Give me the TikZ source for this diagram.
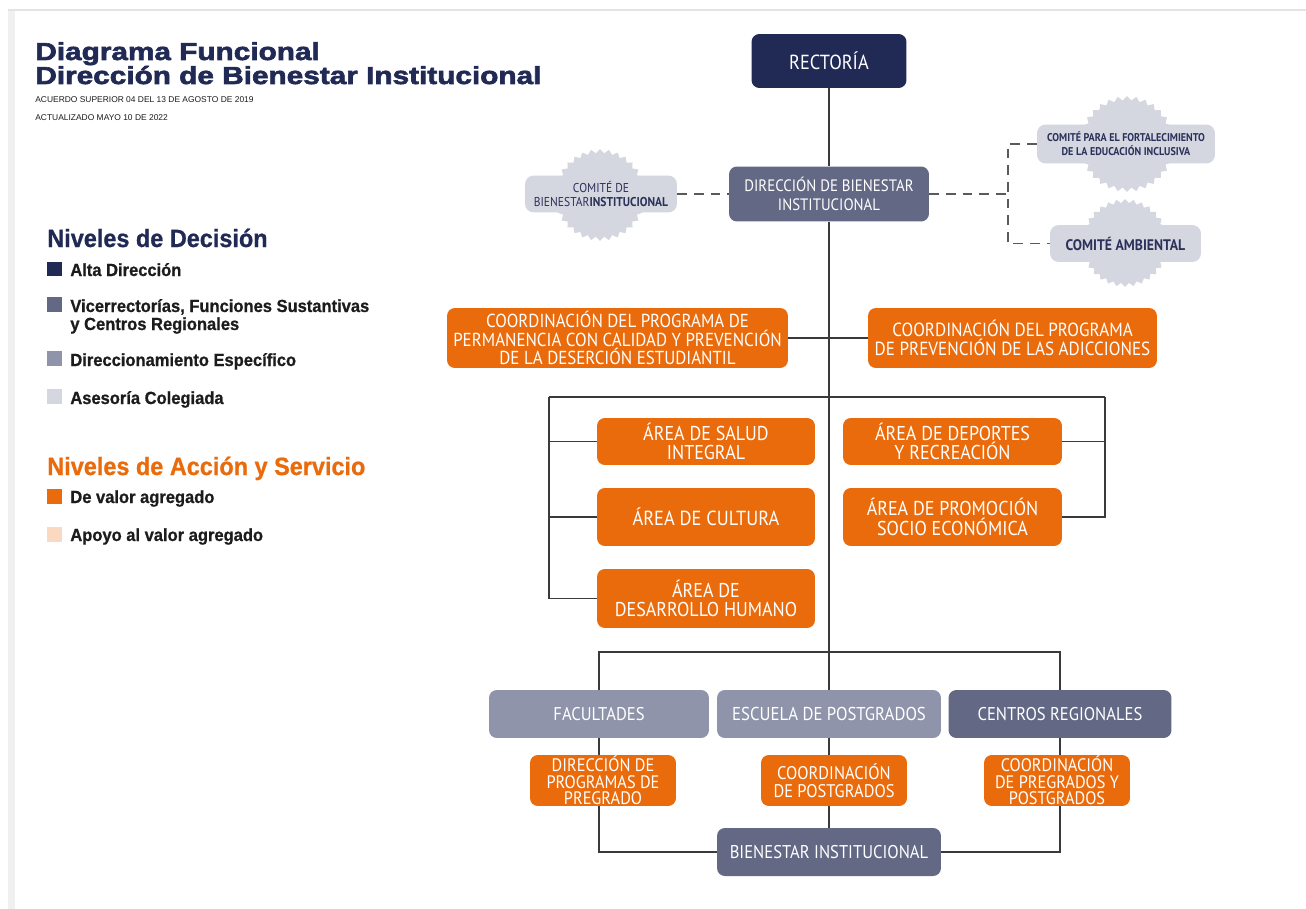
\documentclass[tikz,border=0pt]{standalone}
\usepackage{fontspec}
\setmainfont{Liberation Sans}
\newfontfamily\cajafont[FakeStretch=0.9]{PT Sans}
\newfontfamily\cajafontb[FakeStretch=0.9]{PT Sans Bold}
\newfontfamily\titfont[FakeStretch=1.21,FakeBold=2.5]{Liberation Sans Bold}
\newfontfamily\legfont[FakeStretch=0.94,FakeBold=0.8]{Liberation Sans Bold}
\usetikzlibrary{shapes.geometric}
\definecolor{navy}{HTML}{212A55}
\definecolor{pizarra}{HTML}{636985}
\definecolor{grisazul}{HTML}{8F94AA}
\definecolor{palido}{HTML}{D4D6E0}
\definecolor{naranja}{HTML}{EA6B0C}
\definecolor{durazno}{HTML}{FBD8C0}
\definecolor{tinta}{HTML}{1C1C1C}
\definecolor{linea}{HTML}{3A3A3A}
\definecolor{guiongris}{HTML}{5A5A5A}
\definecolor{comtxt}{HTML}{2B3159}
\tikzset{>=latex}
\tikzset{
  caja/.style={rectangle, rounded corners=4.5pt, inner sep=0pt, align=center, text=white},
  comite/.style={rectangle, rounded corners=5pt, inner sep=0pt, align=center, fill=palido, text=comtxt},
  sello/.style={star, star points=32, star point ratio=1.1, inner sep=0pt, fill=palido},
  cuadro/.style={rectangle, inner sep=0pt, minimum size=0.3cm},
  leyenda/.style={anchor=base west, inner sep=0pt, text=tinta, font=\legfont\fontsize{10}{11}\selectfont},
  titulo/.style={anchor=base west, inner sep=0pt, font=\legfont\fontsize{14.2}{14}\selectfont},
  enlace/.style={draw=linea, line width=0.8pt},
  guion/.style={draw=guiongris, line width=1.1pt, dash pattern=on 5.5pt off 4pt},
}

\begin{document}
\begin{tikzpicture}[x=0.02cm, y=-0.02cm]
  \useasboundingbox (0,0) rectangle (1306,909);
  \fill[white] (0,0) rectangle (1306,909);
  % marco
  \fill[gray!12] (8,11) rectangle (15,909);
  \draw[gray!22, line width=1.2pt] (8,10) -- (1306,10);

  % encabezado
  \node[anchor=base west, inner sep=0pt, text=navy, font=\titfont\fontsize{14}{14}\selectfont] (enc1) at (35,60) {Diagrama Funcional};
  \node[anchor=base west, inner sep=0pt, text=navy, font=\titfont\fontsize{14}{14}\selectfont] (enc2) at (35,84) {Dirección de Bienestar Institucional};
  \node[anchor=base west, inner sep=0pt, text=tinta, font=\fontsize{4.8}{5}\selectfont] (acuerdo) at (35,103) {ACUERDO SUPERIOR 04 DEL 13 DE AGOSTO DE 2019};
  \node[anchor=base west, inner sep=0pt, text=tinta, font=\fontsize{4.8}{5}\selectfont] (fecha) at (35,121) {ACTUALIZADO MAYO 10 DE 2022};

  % leyenda
  \node[titulo, text=navy] (decision) at (47,247) {Niveles de Decisión};
  \node[cuadro, fill=navy] (c1) at (54.5,269) {};
  \node[leyenda] (l1) at (70,276) {Alta Dirección};
  \node[cuadro, fill=pizarra] (c2) at (54.5,304.5) {};
  \node[leyenda] (l2) at (70,312) {Vicerrectorías, Funciones Sustantivas};
  \node[leyenda] (l2b) at (70,330) {y Centros Regionales};
  \node[cuadro, fill=grisazul] (c3) at (54.5,358.5) {};
  \node[leyenda] (l3) at (70,366) {Direccionamiento Específico};
  \node[cuadro, fill=palido] (c4) at (54.5,396.5) {};
  \node[leyenda] (l4) at (70,404) {Asesoría Colegiada};
  \node[titulo, text=naranja] (accion) at (47,475) {Niveles de Acción y Servicio};
  \node[cuadro, fill=naranja] (c5) at (54.5,496) {};
  \node[leyenda] (l5) at (70,503) {De valor agregado};
  \node[cuadro, fill=durazno] (c6) at (54.5,534) {};
  \node[leyenda] (l6) at (70,541) {Apoyo al valor agregado};

  % comites
  \node[sello, minimum size=1.84cm] (selloBI) at (600,195) {};
  \node[sello, minimum size=1.92cm] (selloInc) at (1127,144) {};
  \node[sello, minimum size=1.76cm] (selloAmb) at (1125,243) {};
  \node[comite, minimum width=3.04cm, minimum height=0.74cm, font=\cajafont\fontsize{7.3}{7.8}\selectfont] (comiteBI) at (601,194) {COMITÉ DE\\BIENESTAR{\cajafontb INSTITUCIONAL}};
  \node[comite, minimum width=3.56cm, minimum height=0.78cm, font=\cajafontb\fontsize{6.4}{7.8}\selectfont] (comiteInc) at (1126,144) {COMITÉ PARA EL FORTALECIMIENTO\\DE LA EDUCACIÓN INCLUSIVA};
  \node[comite, minimum width=3.02cm, minimum height=0.74cm, font=\cajafontb\fontsize{8.7}{9}\selectfont] (comiteAmb) at (1125.5,243.5) {COMITÉ AMBIENTAL};

  % unidades
  \node[caja, fill=navy, minimum width=3.1cm, minimum height=1.08cm, font=\cajafont\fontsize{11.6}{12}\selectfont] (rectoria) at (829,61) {RECTORÍA};
  \node[caja, fill=pizarra, minimum width=4cm, minimum height=1.1cm, font=\cajafont\fontsize{9.4}{11}\selectfont] (direccion) at (829,194) {DIRECCIÓN DE BIENESTAR\\INSTITUCIONAL};
  \node[caja, fill=naranja, minimum width=6.82cm, minimum height=1.2cm, font=\cajafont\fontsize{10.7}{10.5}\selectfont] (coordPerm) at (617.5,338) {COORDINACIÓN DEL PROGRAMA DE\\PERMANENCIA CON CALIDAD Y PREVENCIÓN\\DE LA DESERCIÓN ESTUDIANTIL};
  \node[caja, fill=naranja, minimum width=5.78cm, minimum height=1.2cm, font=\cajafont\fontsize{10.8}{11}\selectfont] (coordAdic) at (1012.5,338) {COORDINACIÓN DEL PROGRAMA\\DE PREVENCIÓN DE LAS ADICCIONES};
  \node[caja, fill=naranja, minimum width=4.36cm, minimum height=0.94cm, font=\cajafont\fontsize{11.4}{11}\selectfont] (salud) at (706,441.5) {ÁREA DE SALUD\\INTEGRAL};
  \node[caja, fill=naranja, minimum width=4.36cm, minimum height=1.16cm, font=\cajafont\fontsize{11.6}{11}\selectfont] (cultura) at (706,517) {ÁREA DE CULTURA};
  \node[caja, fill=naranja, minimum width=4.36cm, minimum height=1.18cm, font=\cajafont\fontsize{11.4}{11}\selectfont] (desarrollo) at (706,598.5) {ÁREA DE\\DESARROLLO HUMANO};
  \node[caja, fill=naranja, minimum width=4.38cm, minimum height=0.94cm, font=\cajafont\fontsize{11.4}{11}\selectfont] (deportes) at (952.5,441.5) {ÁREA DE DEPORTES\\Y RECREACIÓN};
  \node[caja, fill=naranja, minimum width=4.38cm, minimum height=1.16cm, font=\cajafont\fontsize{11.4}{11}\selectfont] (promocion) at (952.5,517) {ÁREA DE PROMOCIÓN\\SOCIO ECONÓMICA};
  \node[caja, fill=grisazul, minimum width=4.4cm, minimum height=0.96cm, font=\cajafont\fontsize{10.5}{11}\selectfont] (facultades) at (599,714) {FACULTADES};
  \node[caja, fill=grisazul, minimum width=4.48cm, minimum height=0.96cm, font=\cajafont\fontsize{10.6}{11}\selectfont] (escuela) at (829,714) {ESCUELA DE POSTGRADOS};
  \node[caja, fill=pizarra, minimum width=4.46cm, minimum height=0.96cm, font=\cajafont\fontsize{10.5}{11}\selectfont] (centros) at (1060,714) {CENTROS REGIONALES};
  \node[caja, fill=naranja, minimum width=2.92cm, minimum height=1.02cm, font=\cajafont\fontsize{10.3}{9.3}\selectfont] (dirProg) at (603,780.5) {DIRECCIÓN DE\\PROGRAMAS DE\\PREGRADO};
  \node[caja, fill=naranja, minimum width=2.92cm, minimum height=1.02cm, font=\cajafont\fontsize{10.4}{10.2}\selectfont] (coordPost) at (834,780.5) {COORDINACIÓN\\DE POSTGRADOS};
  \node[caja, fill=naranja, minimum width=2.92cm, minimum height=1.02cm, font=\cajafont\fontsize{10.3}{9.3}\selectfont] (coordPre) at (1057,780.5) {COORDINACIÓN\\DE PREGRADOS Y\\POSTGRADOS};
  \node[caja, fill=pizarra, minimum width=4.48cm, minimum height=0.96cm, font=\cajafont\fontsize{10.5}{11}\selectfont] (bienestar) at (829,852) {BIENESTAR INSTITUCIONAL};

  % conexiones
  \draw[enlace] (rectoria.south) -- (direccion.north);
  \draw[enlace] (direccion.south) -- (escuela.north);
  \draw[enlace] (coordPerm.east) -- (coordAdic.west);
  \coordinate (ramaI) at (549,397);
  \coordinate (ramaD) at (1105,397);
  \draw[enlace] (ramaI) -- (ramaD);
  \draw[enlace] (ramaI) |- (desarrollo.west);
  \draw[enlace] (salud.west) -- (salud.west -| ramaI);
  \draw[enlace] (cultura.west) -- (cultura.west -| ramaI);
  \draw[enlace] (ramaD) |- (promocion.east);
  \draw[enlace] (deportes.east) -- (deportes.east -| ramaD);
  \coordinate (nudo) at (829,652);
  \draw[enlace] (facultades.north) |- (nudo) -| (centros.north);
  \draw[enlace] (facultades.south) -- (facultades.south |- dirProg.north);
  \draw[enlace] (escuela.south) -- (escuela.south |- coordPost.north);
  \draw[enlace] (centros.south) -- (centros.south |- coordPre.north);
  \draw[enlace] (coordPost.south -| bienestar.north) -- (bienestar.north);
  \draw[enlace] (dirProg.south -| facultades) |- (bienestar.west);
  \draw[enlace] (coordPre.south -| centros) |- (bienestar.east);

  % asesoria
  \draw[guion] (comiteBI.east) -- (direccion.west);
  \coordinate (guionJ) at (1008,194);
  \draw[guion] (direccion.east) -- (guionJ);
  \draw[guion] (comiteInc.west) -| (guionJ |- comiteAmb.west) -- (comiteAmb.west);
\end{tikzpicture}
\end{document}
